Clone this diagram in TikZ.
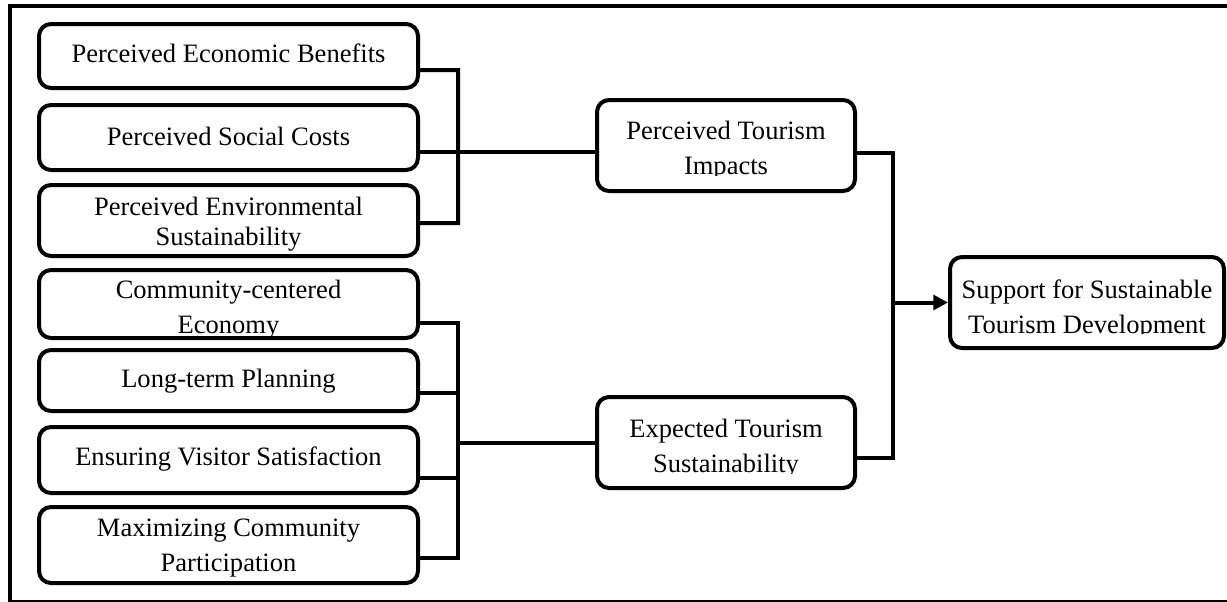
\documentclass[tikz,border=0pt]{standalone}
\usepackage{fontspec}
\setmainfont{Liberation Serif}
\usetikzlibrary{arrows.meta,calc}
\begin{document}
\begin{tikzpicture}[x=0.75pt,y=-0.75pt,
  box/.style={draw,line width=3pt,rounded corners=9pt,inner sep=0pt},
  lbox/.style={box,minimum width=284.25pt},
  mbox/.style={box,minimum width=193.5pt,minimum height=68.25pt},
  lbl/.style={font=\fontsize{19.9}{26.25}\selectfont,align=center,inner sep=0pt},
  lbltight/.style={font=\fontsize{19.9}{22.5}\selectfont,align=center,inner sep=0pt},
  conn/.style={line width=3pt},
  arr/.style={line width=3pt,-{Triangle[length=11pt,width=11pt]}}]
\clip (0,0) rectangle (1227,601);
% outer frame
\draw[line width=3pt] (10,6) rectangle (1260,602);

% left boxes
\node[lbox,minimum height=48pt]    (b1) at (228.5,56) {};
\node[lbox,minimum height=48.75pt] (b2) at (228.5,137.5) {};
\node[lbox,minimum height=53.25pt] (b3) at (228.5,220.5) {};
\node[lbox,minimum height=51pt]    (b4) at (228.5,304) {};
\node[lbox,minimum height=45.75pt] (b5) at (228.5,380.5) {};
\node[lbox,minimum height=49.5pt]  (b6) at (228.5,460) {};
\node[lbox,minimum height=57pt]    (b7) at (228.5,545) {};
% middle boxes
\node[mbox] (pti) at (726,145.5) {};
\node[mbox] (ets) at (726,442.5) {};
% right box
\node[box,minimum width=205.5pt,minimum height=68.25pt] (sstd) at (1087,302.5) {};

% labels
\node[lbl] (t1) at (228.5,53) {Perceived Economic Benefits};
\node[lbl] (t2) at (228.5,136) {Perceived Social Costs};
\node[lbltight] (t3) at (228.5,224) {Perceived Environmental\\Sustainability};
\begin{scope}
\clip (40,270) rectangle (417,336);
\node[lbl] (t4) at (228.5,310) {Community-centered\\Economy};
\end{scope}
\node[lbl] (t5) at (228.5,381) {Long-term Planning};
\node[lbl] (t6) at (228.5,459) {Ensuring Visitor Satisfaction};
\node[lbl] (t7) at (228.5,548.5) {Maximizing Community\\Participation};
\begin{scope}
\clip (598,100) rectangle (854,175);
\node[lbl] (tpti) at (726,150.5) {Perceived Tourism\\Impacts};
\end{scope}
\begin{scope}
\clip (598,397) rectangle (854,473);
\node[lbl] (tets) at (726,448.5) {Expected Tourism\\Sustainability};
\end{scope}
\begin{scope}
\clip (950,257) rectangle (1224,333);
\node[lbl] (tsstd) at (1087,309) {Support for Sustainable\\Tourism Development};
\end{scope}

% bracket 1
\coordinate (j1a) at (458,70);
\coordinate (j1b) at (458,223);
\draw[conn] ([yshift=-10.5pt]b1.east) -- ([yshift=-10.5pt]b1.east -| j1a) -- (j1b) -- ([yshift=-1.9pt]b3.east);
\draw[conn] ([yshift=-10.9pt]b2.east) -- ([yshift=-10.9pt]b2.east -| pti.west);

% bracket 2
\coordinate (j2a) at (458,323);
\coordinate (j2b) at (458,558);
\draw[conn] ([yshift=-14.25pt]b4.east) -- ([yshift=-14.25pt]b4.east -| j2a) -- (j2b) -- ([yshift=-9.75pt]b7.east);
\draw[conn] ([yshift=-9.4pt]b5.east) -- ([yshift=-9.4pt]b5.east -| j2a);
\draw[conn] ([yshift=-13.5pt]b6.east) -- ([yshift=-13.5pt]b6.east -| j2a);
\draw[conn] (ets.west -| j2a) -- (ets.west);

% right bracket
\coordinate (j3) at (893,300);
\draw[conn] ([yshift=-5.6pt]pti.east) -- ([yshift=-5.6pt]pti.east -| j3) -- ([yshift=-11.6pt]ets.east -| j3) -- ([yshift=-11.6pt]ets.east);
\draw[arr] (sstd.west -| j3) -- (sstd.west);
\end{tikzpicture}
\end{document}
